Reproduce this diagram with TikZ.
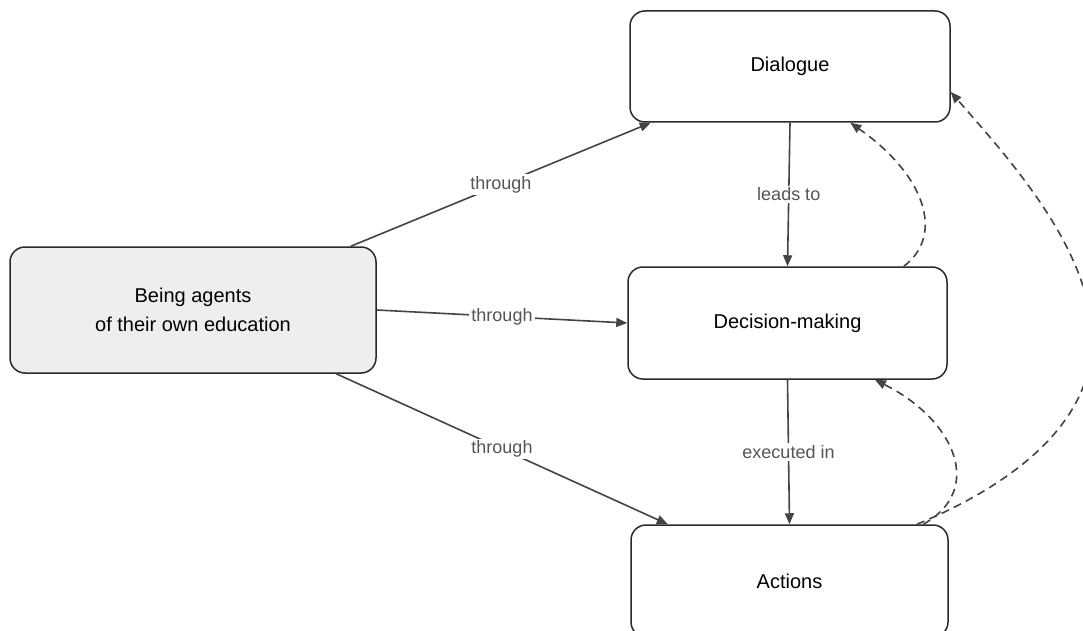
\documentclass[tikz,border=0pt]{standalone}
\usepackage{fontspec}
\setmainfont{Liberation Sans}
\usetikzlibrary{arrows.meta}
\definecolor{edgegray}{HTML}{444444}
\definecolor{labelgray}{HTML}{555555}
\definecolor{boxline}{HTML}{2A2A2A}
\definecolor{agentfill}{HTML}{EEEEEE}
\begin{document}
\begin{tikzpicture}[x=1pt,y=-1pt,
  box/.style={draw=boxline, line width=1.5pt, rounded corners=15pt, fill=white,
    inner sep=0pt, align=center, font=\fontsize{20}{29}\selectfont},
  link/.style={draw=edgegray, line width=1.6pt, -{Triangle[length=11pt,width=9pt]}},
  dlink/.style={link, dash pattern=on 8pt off 5.5pt},
  lbl/.style={fill=white, text=labelgray, inner sep=2pt, font=\fontsize{18}{20}\selectfont}]
\useasboundingbox (0,0) rectangle (1083,631);
\fill[white] (0,0) rectangle (1083,631);
\node[box, fill=agentfill, minimum width=366pt, minimum height=126pt] (agent) at (193,310) {Being agents\\of their own education};
\node[box, minimum width=320pt, minimum height=111pt] (dialogue) at (790,66.5) {Dialogue};
\node[box, minimum width=319pt, minimum height=112pt] (decision) at (787.5,323) {Decision-making};
\node[box, minimum width=317pt, minimum height=112pt] (actions) at (789.5,581) {Actions};
\draw[link] (agent.22) -- node[lbl] {through} (dialogue.202.4);
\draw[link] (agent.east) -- node[lbl] {through} (decision.west);
\draw[link] (agent.-24.4) -- node[lbl] {through} (actions.155.8);
\draw[link] (dialogue.south) -- node[lbl] {leads to} (decision.north);
\draw[link] (decision.south) -- node[lbl] {executed in} (actions.north);
\draw[dlink] (decision.26) .. controls (945,235) and (925,175) .. (dialogue.-43);
\draw[dlink] (actions.23.7) .. controls (985,490) and (955,420) .. (decision.-33);
\draw[dlink] (actions.24) .. controls (1000,490) and (1092,430) .. (1092,340) .. controls (1092,250) and (1010,160) .. (dialogue.-9.75);
\end{tikzpicture}
\end{document}
